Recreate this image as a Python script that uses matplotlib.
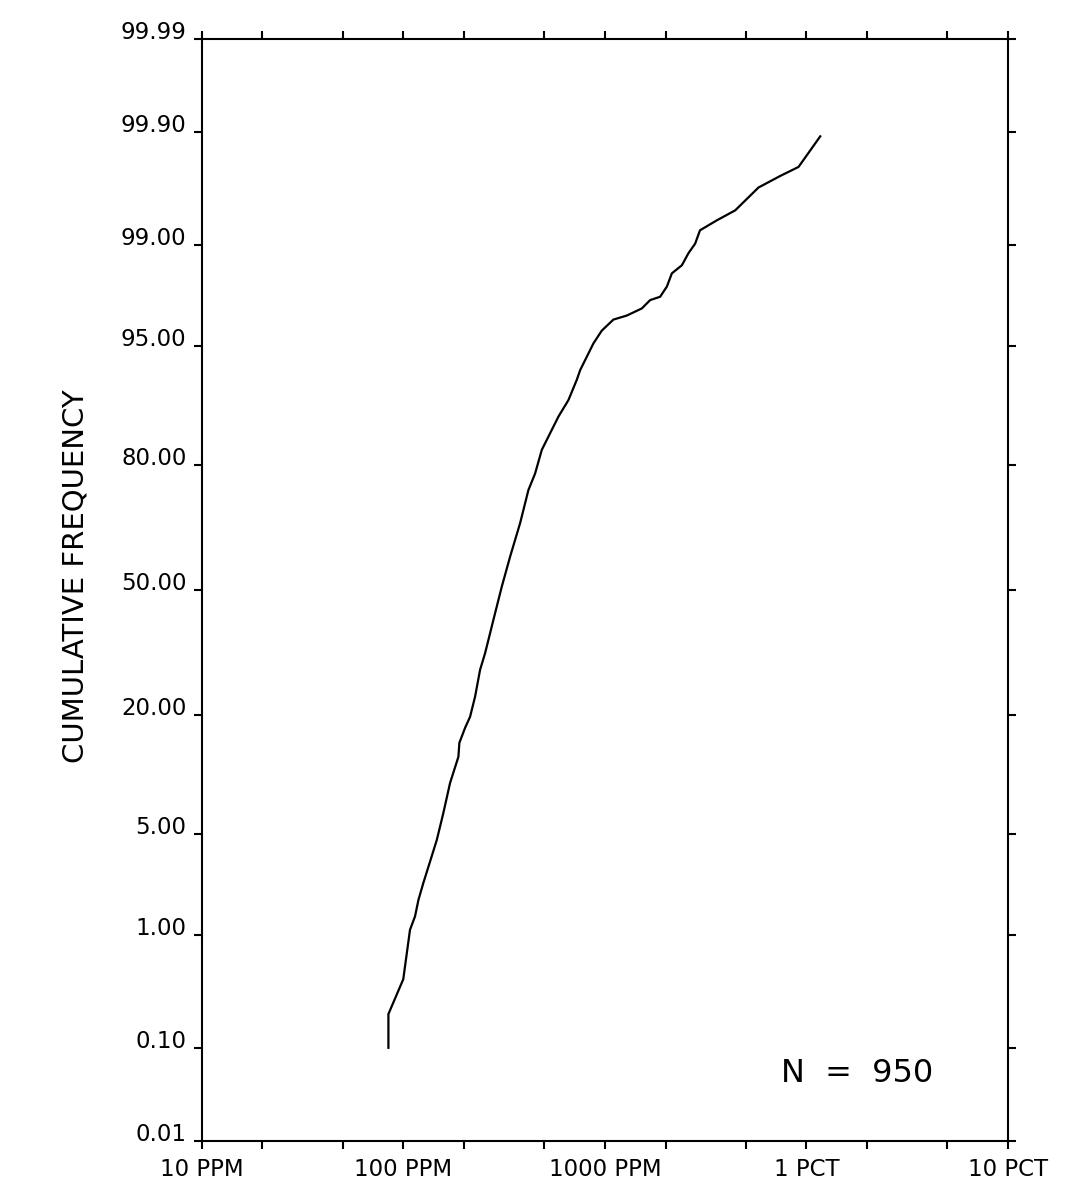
import numpy as np
import matplotlib
matplotlib.use("Agg")
import matplotlib.pyplot as plt
from matplotlib.ticker import FixedLocator, NullLocator, NullFormatter, LogLocator
from statistics import NormalDist

# concentration (ppm) vs cumulative frequency (%)
conc_ppm = np.array([84.4, 84.4, 100, 108, 114.4, 118.9, 125.8, 135.8, 146.7, 158.1,
                     170.7, 187.7, 189.8, 202.6, 214.5, 227.2, 240.5, 254.7, 264.5, 280,
                     296.5, 308.2, 338.9, 379.9, 417.7, 450.8, 486.9, 535.3, 588.5, 659.7,
                     726, 754, 878, 966, 1103, 1285, 1526, 1678, 1881, 2031,
                     2150, 2411, 2600, 2806, 2965, 3595, 4433, 5785, 7413, 9138, 11710])
cum_pct = np.array([0.10, 0.21, 0.43, 1.09, 1.38, 1.82, 2.40, 3.34, 4.58, 6.62,
                    9.64, 13.0, 15.1, 17.6, 19.6, 23.6, 29.5, 33.5, 36.8, 42.0,
                    47.3, 50.9, 58.9, 67.4, 75.0, 78.4, 82.8, 85.5, 87.9, 90.0,
                    92.2, 93.1, 95.2, 96.0, 96.6, 96.8, 97.13, 97.48, 97.61, 97.97,
                    98.37, 98.58, 98.85, 99.03, 99.24, 99.37, 99.48, 99.67, 99.74, 99.785, 99.89])

y_ticks = [0.01, 0.10, 1.00, 5.00, 20.00, 50.00, 80.00, 95.00, 99.00, 99.90, 99.99]
x_ticks = [10, 100, 1000, 10000, 100000]
x_labels = ["10 PPM", "100 PPM", "1000 PPM", "1 PCT", "10 PCT"]

nd = NormalDist()
_ppf = np.vectorize(nd.inv_cdf, otypes=[float])
_cdf = np.vectorize(nd.cdf, otypes=[float])


def prob_fwd(p):
    p = np.clip(np.asarray(p, dtype=float), 1e-7, 100 - 1e-7)
    return _ppf(p / 100.0)


def prob_inv(z):
    return _cdf(np.asarray(z, dtype=float)) * 100.0


fig = plt.figure(figsize=(10.82, 11.99), dpi=100)
ax = fig.add_axes([0.1864, 0.0484, 0.7452, 0.9191])

ax.plot(conc_ppm, cum_pct, color="black", lw=1.6)

ax.set_xscale("log")
ax.set_yscale("function", functions=(prob_fwd, prob_inv))
ax.set_xlim(10, 100000)
ax.set_ylim(0.01, 99.99)

ax.xaxis.set_major_locator(FixedLocator(x_ticks))
ax.set_xticklabels(x_labels)
ax.xaxis.set_minor_locator(LogLocator(base=10, subs=(2, 5)))
ax.xaxis.set_minor_formatter(NullFormatter())

ax.yaxis.set_major_locator(FixedLocator(y_ticks))
ax.set_yticklabels(["%.2f" % v for v in y_ticks])
ax.yaxis.set_minor_locator(NullLocator())

for s in ax.spines.values():
    s.set_linewidth(1.5)

ax.tick_params(which="both", direction="out", length=6, width=1.5,
               top=True, right=True, labeltop=False, labelright=False)
ax.tick_params(axis="x", labelsize=16.5, pad=6)
ax.tick_params(axis="y", labelsize=16.5, pad=5)
for t in ax.get_yticklabels():
    t.set_va("baseline")

ax.set_ylabel("CUMULATIVE FREQUENCY", fontsize=21, va="center")
ax.yaxis.set_label_coords(-0.156, 0.513)

ax.text(0.813, 0.061, "N  =  950", transform=ax.transAxes,
        ha="center", va="center", fontsize=23)

fig.savefig("out.png", dpi=100)
